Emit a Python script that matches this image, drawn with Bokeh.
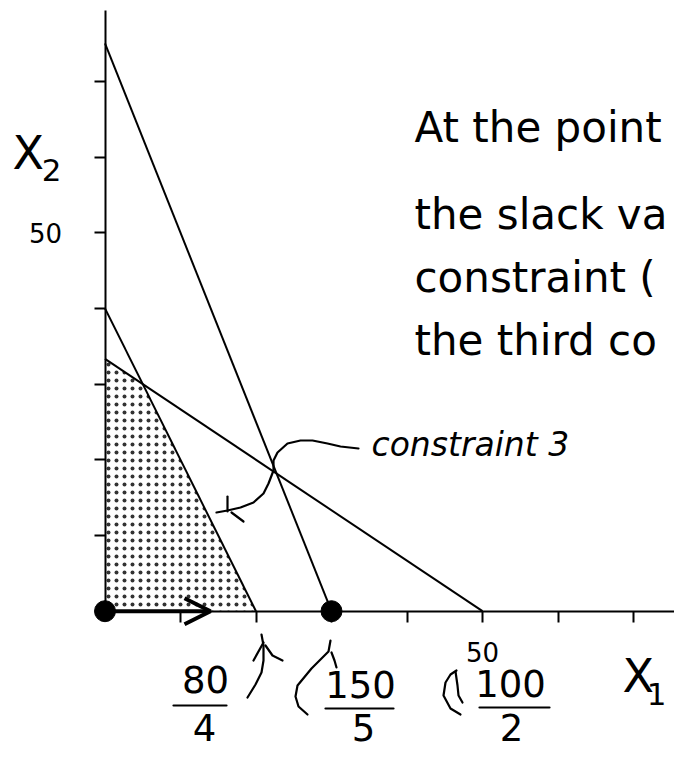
from bokeh.plotting import figure
from bokeh.models import Range1d, FixedTicker, Arrow, OpenHead
from bokeh.core.properties import value
from bokeh.embed import file_html
from bokeh.resources import INLINE

# ---- data: constraints a*x1 + b*x2 <= c ----
con_a = [5, 4, 2]
con_b = [2, 2, 3]
con_c = [150, 80, 100]
# feasible region corners (x1, x2)
feas_x1 = [0, 0, 5, 20]
feas_x2 = [0, 100 / 3, 30, 0]
# highlighted basic solutions
pt_x1 = [0, 30]
pt_x2 = [0, 0]
# axis ticks
tick_vals = [10, 20, 30, 40, 50, 60, 70]
tick_text = ["", "", "", "", "50", "", ""]

# ---- geometry (canvas pixels -> data units) ----
W, H = 674, 756
SX, SY = 7.55, 7.57
OXR, OYR = 104.5, 610.7
BASE_FIX = 0.43  # text baseline correction, in em


def X(px):
    return (px - OXR) / SX


def Y(py):
    return (OYR - py) / SY


def YT(py, size):
    return Y(py - BASE_FIX * size)


FONT = value("DejaVu Sans")

p = figure(width=W, height=H, output_backend="svg", toolbar_location=None,
           x_range=Range1d(X(0), X(W)), y_range=Range1d(Y(H), Y(0)),
           min_border=0, title=None)
p.outline_line_color = None
p.background_fill_color = "white"
p.border_fill_color = "white"
p.grid.visible = False

overrides = {t: s for t, s in zip(tick_vals, tick_text)}
for ax, bounds in ((p.xaxis, (0, X(W + 10))), (p.yaxis, (0, Y(10)))):
    ax.fixed_location = 0
    ax.bounds = bounds
    ax.ticker = FixedTicker(ticks=tick_vals, minor_ticks=[])
    ax.major_label_overrides = overrides
    ax.axis_line_width = 2
    ax.axis_line_color = "black"
    ax.major_tick_line_width = 2
    ax.major_tick_line_color = "black"
    ax.major_tick_in = 0
    ax.major_tick_out = 11
    ax.minor_tick_line_color = None
    ax.major_label_text_font = "DejaVu Sans"
    ax.major_label_text_font_size = "26px"
    ax.major_label_text_color = "black"
p.xaxis.major_label_standoff = 20
p.yaxis.major_label_standoff = 32

# feasible region (dotted)
p.patch(feas_x1, feas_x2, fill_alpha=0, line_color=None,
        hatch_pattern="dot", hatch_scale=8, hatch_color="black",
        hatch_alpha=0.8, hatch_weight=1.0)

# constraint lines
for a, b, c in zip(con_a, con_b, con_c):
    p.line([0, c / a], [c / b, 0], line_color="black", line_width=2)

# arrow along X1 axis
p.add_layout(Arrow(end=OpenHead(size=26, line_width=4, line_color="black"),
                   x_start=0, y_start=0, x_end=X(210), y_end=0,
                   line_width=4, line_color="black"))

# corner points
p.scatter(pt_x1, pt_x2, size=21, color="black")

# hand-drawn annotation arrows (pixel paths)
paths = [
    # constraint 3 pointer
    [(358, 448), (340, 446), (327, 443), (312, 440), (300, 440), (287, 443),
     (277, 452), (273, 460), (273, 470), (268, 483), (263, 493), (253, 502),
     (240, 507), (227, 510), (216, 512)],
    [(227, 496), (227, 511)],
    [(231, 512), (243, 521)],
    # 80/4 pointer
    [(247, 697), (255, 684), (261, 672), (263, 660), (263, 645), (261, 634)],
    [(263, 642), (253, 660)],
    [(265, 645), (272, 655), (282, 660)],
    # 150/5 pointer
    [(307, 714), (298, 706), (295, 696), (297, 685), (311, 668), (321, 658),
     (328, 651), (330, 640)],
    [(331, 652), (334, 660), (336, 667)],
    # 100/2 pointer
    [(460, 714), (450, 708), (443, 695), (445, 682), (450, 674), (456, 670)],
    [(455, 671), (457, 685), (458, 695), (462, 702)],
    # fraction bars
    [(173, 705), (226, 705)],
    [(325, 708), (393, 708)],
    [(479, 707), (549, 707)],
]
p.multi_line([[X(a) for a, _ in pth] for pth in paths],
             [[Y(b) for _, b in pth] for pth in paths],
             line_color="black", line_width=2.2, line_join="round", line_cap="round")

# explanatory text
para = ["At the point", "the slack va", "constraint (", "the third co"]
para_base = [145, 232, 295, 358]
p.text(x=[X(414)] * 4, y=[YT(b, 42) for b in para_base], text=para,
       text_font=FONT, text_font_size="42px", text_baseline="alphabetic",
       text_align="left", text_color="black")

p.text(x=[X(371)], y=[YT(458, 33)], text=["constraint 3"], text_font=FONT,
       text_font_size="33px", text_font_style="italic",
       text_baseline="alphabetic", text_color="black")

# axis names
p.text(x=[X(12), X(622)], y=[YT(172, 46), YT(695, 46)], text=["X", "X"],
       text_font=FONT, text_font_size="46px", text_baseline="alphabetic",
       text_color="black")
p.text(x=[X(51), X(656)], y=[YT(183, 31), YT(707, 31)], text=["2", "1"],
       text_font=FONT, text_font_size="31px", text_baseline="alphabetic",
       text_align="center", text_color="black")

# fractions
frac_txt = ["80", "4", "150", "5", "100", "2"]
frac_cx = [205, 204, 360, 363, 510, 511]
frac_base = [695, 743, 700, 743, 699, 743]
p.text(x=[X(v) for v in frac_cx], y=[YT(v, 37) for v in frac_base], text=frac_txt,
       text_font=FONT, text_font_size="37px", text_baseline="alphabetic",
       text_align="center", text_color="black")

open("out.html", "w").write(file_html(p, INLINE))
